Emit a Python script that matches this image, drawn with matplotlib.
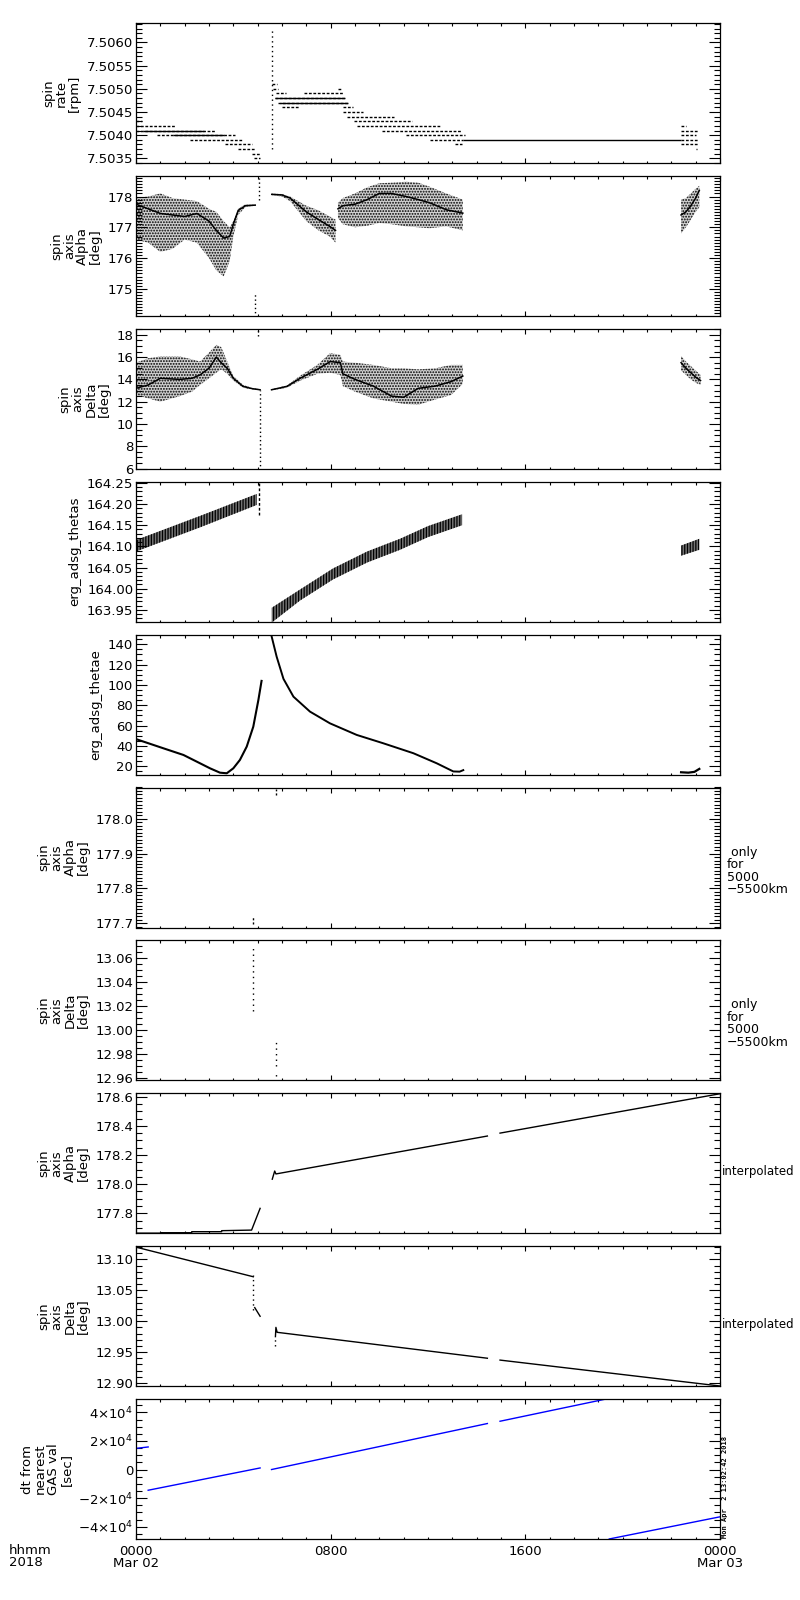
import matplotlib
matplotlib.use('Agg')
import matplotlib.pyplot as plt
from matplotlib.ticker import MultipleLocator, FormatStrFormatter, FuncFormatter

plt.rcParams['font.family'] = ['DejaVu Sans']
plt.rcParams['hatch.color'] = 'black'
plt.rcParams['hatch.linewidth'] = 0.9
plt.rcParams['axes.linewidth'] = 0.9

# ---- panel 1: spin rate [rpm], quantised runs (level, start hour, end hour)
rate_level = [7.5043, 7.5042, 7.5041, 7.5040, 7.5039, 7.5038, 7.5037, 7.5036, 7.5035,
              7.5051, 7.5050, 7.5049, 7.5049, 7.5048, 7.5047, 7.5046, 7.5050, 7.5046,
              7.5045, 7.5044, 7.5043, 7.5042, 7.5041, 7.5040, 7.5039, 7.5038,
              7.5042, 7.5041, 7.5040, 7.5039, 7.5038, 7.5037]
rate_start = [0.0, 0.0, 0.0, 0.85, 2.2, 3.65, 4.2, 4.78, 4.85,
              5.6, 5.62, 5.75, 6.9, 5.7, 5.85, 6.0, 8.3, 8.5,
              8.5, 8.66, 8.96, 9.1, 10.1, 11.1, 12.1, 13.1,
              22.4, 22.4, 22.4, 22.4, 22.4, 23.0]
rate_end = [0.25, 1.64, 3.25, 4.07, 4.4, 4.77, 4.9, 5.1, 5.1,
            5.8, 5.85, 6.15, 8.5, 8.6, 8.75, 6.7, 8.45, 8.93,
            9.34, 10.6, 11.33, 12.5, 13.35, 13.5, 13.45, 13.4,
            22.6, 23.1, 23.0, 23.1, 23.1, 23.07]
rate_solid_level = [7.5041, 7.5040, 7.5048, 7.5047, 7.5039]
rate_solid_start = [0.3, 1.5, 5.7, 5.9, 13.45]
rate_solid_end = [2.8, 3.6, 8.6, 8.7, 22.4]
rate_spike_h = 5.58
rate_spike_range = [7.5037, 7.5063]

# ---- panel 2: spin axis Alpha (scatter clouds: hour, low, high, dense core)
alpha_a_h = [0.0, 0.5, 1.0, 1.5, 2.0, 2.5, 3.0, 3.3, 3.6, 3.85, 4.0, 4.2, 4.5, 4.9]
alpha_a_lo = [176.6, 176.5, 176.2, 176.3, 176.6, 176.5, 176.0, 175.6, 175.4, 175.9, 176.7, 177.4, 177.66, 177.7]
alpha_a_hi = [177.95, 178.0, 178.1, 177.95, 177.9, 177.85, 177.6, 177.5, 177.2, 177.0, 177.2, 177.6, 177.75, 177.74]
alpha_a_mid = [177.75, 177.6, 177.45, 177.4, 177.35, 177.45, 177.2, 176.9, 176.65, 176.7, 177.1, 177.55, 177.7, 177.72]
alpha_b_h = [5.58, 6.0, 6.33, 7.0, 7.5, 7.96, 8.2]
alpha_b_lo = [178.04, 178.0, 177.85, 177.2, 176.9, 176.7, 176.5]
alpha_b_hi = [178.1, 178.08, 178.0, 177.7, 177.55, 177.35, 177.25]
alpha_b_mid = [178.07, 178.05, 177.95, 177.5, 177.25, 177.03, 176.9]
alpha_c_h = [8.3, 8.5, 9.0, 9.5, 10.0, 10.5, 11.1, 11.6, 12.06, 12.75, 13.43]
alpha_c_lo = [177.3, 177.1, 177.0, 177.05, 177.14, 177.1, 177.03, 177.0, 176.97, 177.03, 176.9]
alpha_c_hi = [177.8, 177.95, 178.1, 178.3, 178.43, 178.45, 178.48, 178.45, 178.32, 178.1, 177.9]
alpha_c_mid = [177.6, 177.7, 177.75, 177.9, 178.1, 178.1, 178.0, 177.9, 177.8, 177.57, 177.46]
alpha_d_h = [22.4, 22.6, 22.8, 23.0, 23.15]
alpha_d_lo = [176.8, 177.0, 177.25, 177.5, 177.65]
alpha_d_hi = [177.9, 177.95, 178.1, 178.25, 178.35]
alpha_d_mid = [177.4, 177.5, 177.7, 177.95, 178.2]
alpha_spikes = [(5.04, 177.9, 178.6), (4.9, 174.1, 174.9)]

# ---- panel 3: spin axis Delta
delta_a_h = [0.0, 0.5, 1.0, 1.8, 2.3, 2.63, 3.0, 3.3, 3.5, 3.75, 4.0, 4.4, 4.8, 5.1]
delta_a_lo = [12.6, 12.3, 12.0, 12.5, 12.9, 13.5, 14.1, 14.6, 14.9, 14.5, 13.9, 13.25, 13.1, 13.02]
delta_a_hi = [15.5, 15.9, 16.06, 16.06, 15.8, 15.6, 16.4, 17.1, 16.9, 15.6, 14.3, 13.5, 13.22, 13.12]
delta_a_mid = [13.2, 13.5, 14.1, 14.0, 14.1, 14.4, 15.0, 16.0, 15.5, 15.0, 14.1, 13.37, 13.16, 13.07]
delta_b_h = [5.57, 6.2, 6.76, 7.45, 7.98, 8.4, 8.5, 9.0, 9.75, 10.5, 11.0, 11.6, 12.3, 12.95, 13.43]
delta_b_lo = [13.02, 13.25, 13.9, 14.5, 14.6, 14.4, 13.4, 12.9, 12.3, 12.0, 11.8, 11.73, 12.2, 12.6, 13.6]
delta_b_hi = [13.12, 13.45, 14.35, 15.3, 16.36, 16.2, 15.6, 15.5, 15.3, 15.0, 15.0, 14.9, 15.0, 15.3, 15.3]
delta_b_mid = [13.07, 13.37, 14.12, 14.9, 15.6, 15.5, 14.5, 14.0, 13.4, 12.5, 12.4, 13.2, 13.4, 13.8, 14.3]
delta_c_h = [22.4, 22.6, 22.8, 23.0, 23.2]
delta_c_lo = [14.8, 14.4, 14.0, 13.7, 13.5]
delta_c_hi = [16.1, 15.6, 15.2, 14.8, 14.4]
delta_c_mid = [15.5, 15.0, 14.6, 14.2, 13.9]
delta_spikes = [(5.1, 5.9, 13.07), (5.0, 17.85, 18.45)]

# ---- panel 4: erg_adsg_thetas (band: hour, low, high)
thetas_a_h = [0.0, 2.63, 4.96]
thetas_a_lo = [164.088, 164.145, 164.198]
thetas_a_hi = [164.115, 164.172, 164.224]
thetas_b_h = [5.58, 6.74, 8.1, 9.5, 10.85, 12.0, 13.4]
thetas_b_lo = [163.92, 163.972, 164.022, 164.062, 164.092, 164.122, 164.15]
thetas_b_hi = [163.955, 163.998, 164.048, 164.088, 164.118, 164.148, 164.176]
thetas_c_h = [22.4, 23.15]
thetas_c_lo = [164.078, 164.092]
thetas_c_hi = [164.102, 164.118]
thetas_spike = (5.05, 164.175, 164.255)

# ---- panel 5: erg_adsg_thetae
thetae_a_h = [0.0, 1.12, 1.95, 2.5, 3.04, 3.45, 3.73, 4.0, 4.27, 4.55, 4.82, 5.03, 5.16]
thetae_a_v = [46.8, 37.8, 31.2, 24.6, 18.1, 13.8, 13.2, 18.1, 26.3, 39.4, 59.0, 85.3, 104.0]
thetae_b_h = [5.55, 5.78, 6.06, 6.47, 7.15, 7.97, 9.07, 10.16, 11.4, 12.36, 13.04, 13.3, 13.45]
thetae_b_v = [150.0, 127.8, 106.0, 88.5, 73.8, 62.3, 50.9, 42.7, 32.9, 23.0, 15.0, 14.8, 16.3]
thetae_c_h = [22.4, 22.7, 22.95, 23.15]
thetae_c_v = [14.2, 13.8, 14.6, 17.5]

# ---- panels 6, 7: only for 5000-5500km
alpha_k_marks = [(5.74, 178.067, 178.085), (4.82, 177.698, 177.72)]
delta_k_marks = [(4.82, 13.016, 13.07), (5.74, 12.97, 12.99), (5.74, 12.962, 12.963)]

# ---- panel 8: interpolated Alpha
alpha_i_a_h = [0.0, 1.06, 1.06, 2.29, 2.29, 3.52, 3.52, 4.75, 5.1]
alpha_i_a_v = [177.664, 177.664, 177.667, 177.667, 177.674, 177.674, 177.681, 177.685, 177.834]
alpha_i_b_h = [5.6, 5.7, 5.75, 14.44]
alpha_i_b_v = [178.034, 178.09, 178.07, 178.33]
alpha_i_c_h = [14.96, 24.0]
alpha_i_c_v = [178.35, 178.62]

# ---- panel 9: interpolated Delta
delta_i_a_h = [0.0, 4.82]
delta_i_a_v = [13.12, 13.072]
delta_i_b_h = [4.88, 5.1]
delta_i_b_v = [13.022, 13.008]
delta_i_c_h = [5.73, 5.75, 5.8, 14.44]
delta_i_c_v = [12.975, 12.99, 12.982, 12.94]
delta_i_d_h = [14.96, 24.0]
delta_i_d_v = [12.937, 12.895]
delta_i_dots = [(4.82, 13.018, 13.075), (5.73, 12.96, 12.975)]

# ---- panel 10: dt from nearest GAS value [sec]
dt_h = [[0.0, 0.5], [0.5, 5.1], [5.57, 14.44], [14.96, 19.3], [19.45, 24.0]]
dt_v = [[14800, 15800], [-14500, 1100], [0, 32200], [33800, 49300], [-48600, -33100]]

ylabels = ['spin\nrate\n[rpm]', 'spin\naxis\nAlpha\n[deg]', 'spin\naxis\nDelta\n[deg]',
           'erg_adsg_thetas', 'erg_adsg_thetae', 'spin\naxis\nAlpha\n[deg]',
           'spin\naxis\nDelta\n[deg]', 'spin\naxis\nAlpha\n[deg]', 'spin\naxis\nDelta\n[deg]',
           'dt from\nnearest\nGAS val\n[sec]']
ylims = [(7.5034, 7.50642), (174.12, 178.67), (5.98, 18.54), (163.922, 164.253), (11.9, 149.5),
         (177.6875, 178.09), (12.958, 13.0747), (177.663, 178.623), (12.8947, 13.1215), (-48700, 49300)]
y_major = [0.0005, 1, 2, 0.05, 20, 0.1, 0.02, 0.2, 0.05, 20000]
y_minor = [0.0001, 0.1, 0.5, 0.01, 5, 0.01, 0.005, 0.05, 0.01, 5000]
y_fmt = ['%.4f', '%d', '%d', '%.2f', '%d', '%.1f', '%.2f', '%.1f', '%.2f', None]


def dt_fmt(v, pos):
    if abs(v) < 1:
        return '0'
    sign = '\u2212' if v < 0 else ''
    return sign + '%d\u00d710$^4$' % round(abs(v) / 1e4)


def cloud(ax, h, lo, hi, mid):
    ax.fill_between(h, lo, hi, facecolor='0.82', edgecolor='k', hatch='......', linewidth=0)
    ax.plot(h, mid, color='k', lw=1.1)


def band(ax, h, lo, hi):
    ax.fill_between(h, lo, hi, facecolor='0.45', edgecolor='k', hatch='||||||', linewidth=0)


fig = plt.figure(figsize=(8, 16), dpi=100)
axes = []
for i in range(10):
    top = 23 + i * 152.9
    ax = fig.add_axes([136 / 800, 1 - (top + 140) / 1600, 584 / 800, 140 / 1600])
    ax.set_xlim(0, 24)
    ax.set_ylim(*ylims[i])
    ax.xaxis.set_major_locator(MultipleLocator(8))
    ax.xaxis.set_minor_locator(MultipleLocator(1))
    ax.yaxis.set_major_locator(MultipleLocator(y_major[i]))
    ax.yaxis.set_minor_locator(MultipleLocator(y_minor[i]))
    if y_fmt[i]:
        ax.yaxis.set_major_formatter(FormatStrFormatter(y_fmt[i]))
    else:
        ax.yaxis.set_major_formatter(FuncFormatter(dt_fmt))
    ax.tick_params(which='both', direction='in', top=True, right=True, width=0.8)
    ax.tick_params(axis='x', which='major', length=3.5)
    ax.tick_params(axis='x', which='minor', length=1.8)
    ax.tick_params(axis='y', which='major', length=8, labelsize=9.5, pad=2)
    ax.tick_params(axis='y', which='minor', length=4.3)
    ax.tick_params(axis='x', labelbottom=False)
    ax.set_ylabel(ylabels[i], fontsize=9.5, linespacing=1.0, labelpad=4)
    axes.append(ax)

# panel 1
ax = axes[0]
ax.hlines(rate_level, rate_start, rate_end, colors='k', lw=1.0, linestyles=(0, (2, 1.2)))
ax.hlines(rate_solid_level, rate_solid_start, rate_solid_end, colors='k', lw=1.0)
ax.vlines(rate_spike_h, rate_spike_range[0], rate_spike_range[1], colors='k', lw=1.0, linestyles=(0, (1, 2.5)))

# panel 2
ax = axes[1]
cloud(ax, alpha_a_h, alpha_a_lo, alpha_a_hi, alpha_a_mid)
cloud(ax, alpha_b_h, alpha_b_lo, alpha_b_hi, alpha_b_mid)
cloud(ax, alpha_c_h, alpha_c_lo, alpha_c_hi, alpha_c_mid)
cloud(ax, alpha_d_h, alpha_d_lo, alpha_d_hi, alpha_d_mid)
for h, a, b in alpha_spikes:
    ax.vlines(h, a, b, colors='k', lw=1.0, linestyles=(0, (1, 2)))

# panel 3
ax = axes[2]
cloud(ax, delta_a_h, delta_a_lo, delta_a_hi, delta_a_mid)
cloud(ax, delta_b_h, delta_b_lo, delta_b_hi, delta_b_mid)
cloud(ax, delta_c_h, delta_c_lo, delta_c_hi, delta_c_mid)
for h, a, b in delta_spikes:
    ax.vlines(h, a, b, colors='k', lw=1.0, linestyles=(0, (1, 2)))

# panel 4
ax = axes[3]
band(ax, thetas_a_h, thetas_a_lo, thetas_a_hi)
band(ax, thetas_b_h, thetas_b_lo, thetas_b_hi)
band(ax, thetas_c_h, thetas_c_lo, thetas_c_hi)
ax.vlines(thetas_spike[0], thetas_spike[1], thetas_spike[2], colors='k', lw=1.0, linestyles=(0, (2, 1.5)))

# panel 5
ax = axes[4]
ax.plot(thetae_a_h, thetae_a_v, color='k', lw=1.5)
ax.plot(thetae_b_h, thetae_b_v, color='k', lw=1.4)
ax.plot(thetae_c_h, thetae_c_v, color='k', lw=1.6)

# panels 6, 7
for h, a, b in alpha_k_marks:
    axes[5].vlines(h, a, b, colors='k', lw=1.0, linestyles=(0, (1.5, 1.5)))
for h, a, b in delta_k_marks:
    axes[6].vlines(h, a, b, colors='k', lw=1.0, linestyles=(0, (1, 3)))
for ax in axes[5:7]:
    ax.text(1.012, 0.405, ' only\nfor\n5000\n\u22125500km', transform=ax.transAxes,
            ha='left', va='center', fontsize=9, linespacing=0.95)

# panel 8
ax = axes[7]
ax.plot(alpha_i_a_h, alpha_i_a_v, color='k', lw=1.0)
ax.plot(alpha_i_b_h, alpha_i_b_v, color='k', lw=1.0)
ax.plot(alpha_i_c_h, alpha_i_c_v, color='k', lw=1.0)

# panel 9
ax = axes[8]
ax.plot(delta_i_a_h, delta_i_a_v, color='k', lw=1.0)
ax.plot(delta_i_b_h, delta_i_b_v, color='k', lw=1.0)
ax.plot(delta_i_c_h, delta_i_c_v, color='k', lw=1.0)
ax.plot(delta_i_d_h, delta_i_d_v, color='k', lw=1.0)
for h, a, b in delta_i_dots:
    ax.vlines(h, a, b, colors='k', lw=1.0, linestyles=(0, (1, 2.5)))
for ax in axes[7:9]:
    ax.text(1.003, 0.44, 'interpolated', transform=ax.transAxes, ha='left', va='center', fontsize=8.5)

# panel 10
ax = axes[9]
for h, v in zip(dt_h, dt_v):
    ax.plot(h, v, color='#0000ff', lw=1.0)
ax.set_xticks([0, 8, 16, 24])
ax.set_xticklabels(['0000\nMar 02', '0800', '1600', '0000\nMar 03'], fontsize=9.5, linespacing=0.95)
ax.tick_params(axis='x', labelbottom=True, pad=4)

fig.text(9 / 800, 1 - 1544 / 1600, 'hhmm\n2018', ha='left', va='top', fontsize=9.5, linespacing=0.95)
fig.text(722 / 800, 1 - 1538 / 1600, 'Mon Apr  2 13:02:42 2018', rotation=90, ha='left', va='bottom',
         fontsize=5, family='DejaVu Sans Mono', fontweight='bold')

fig.savefig('out.png', dpi=100)
